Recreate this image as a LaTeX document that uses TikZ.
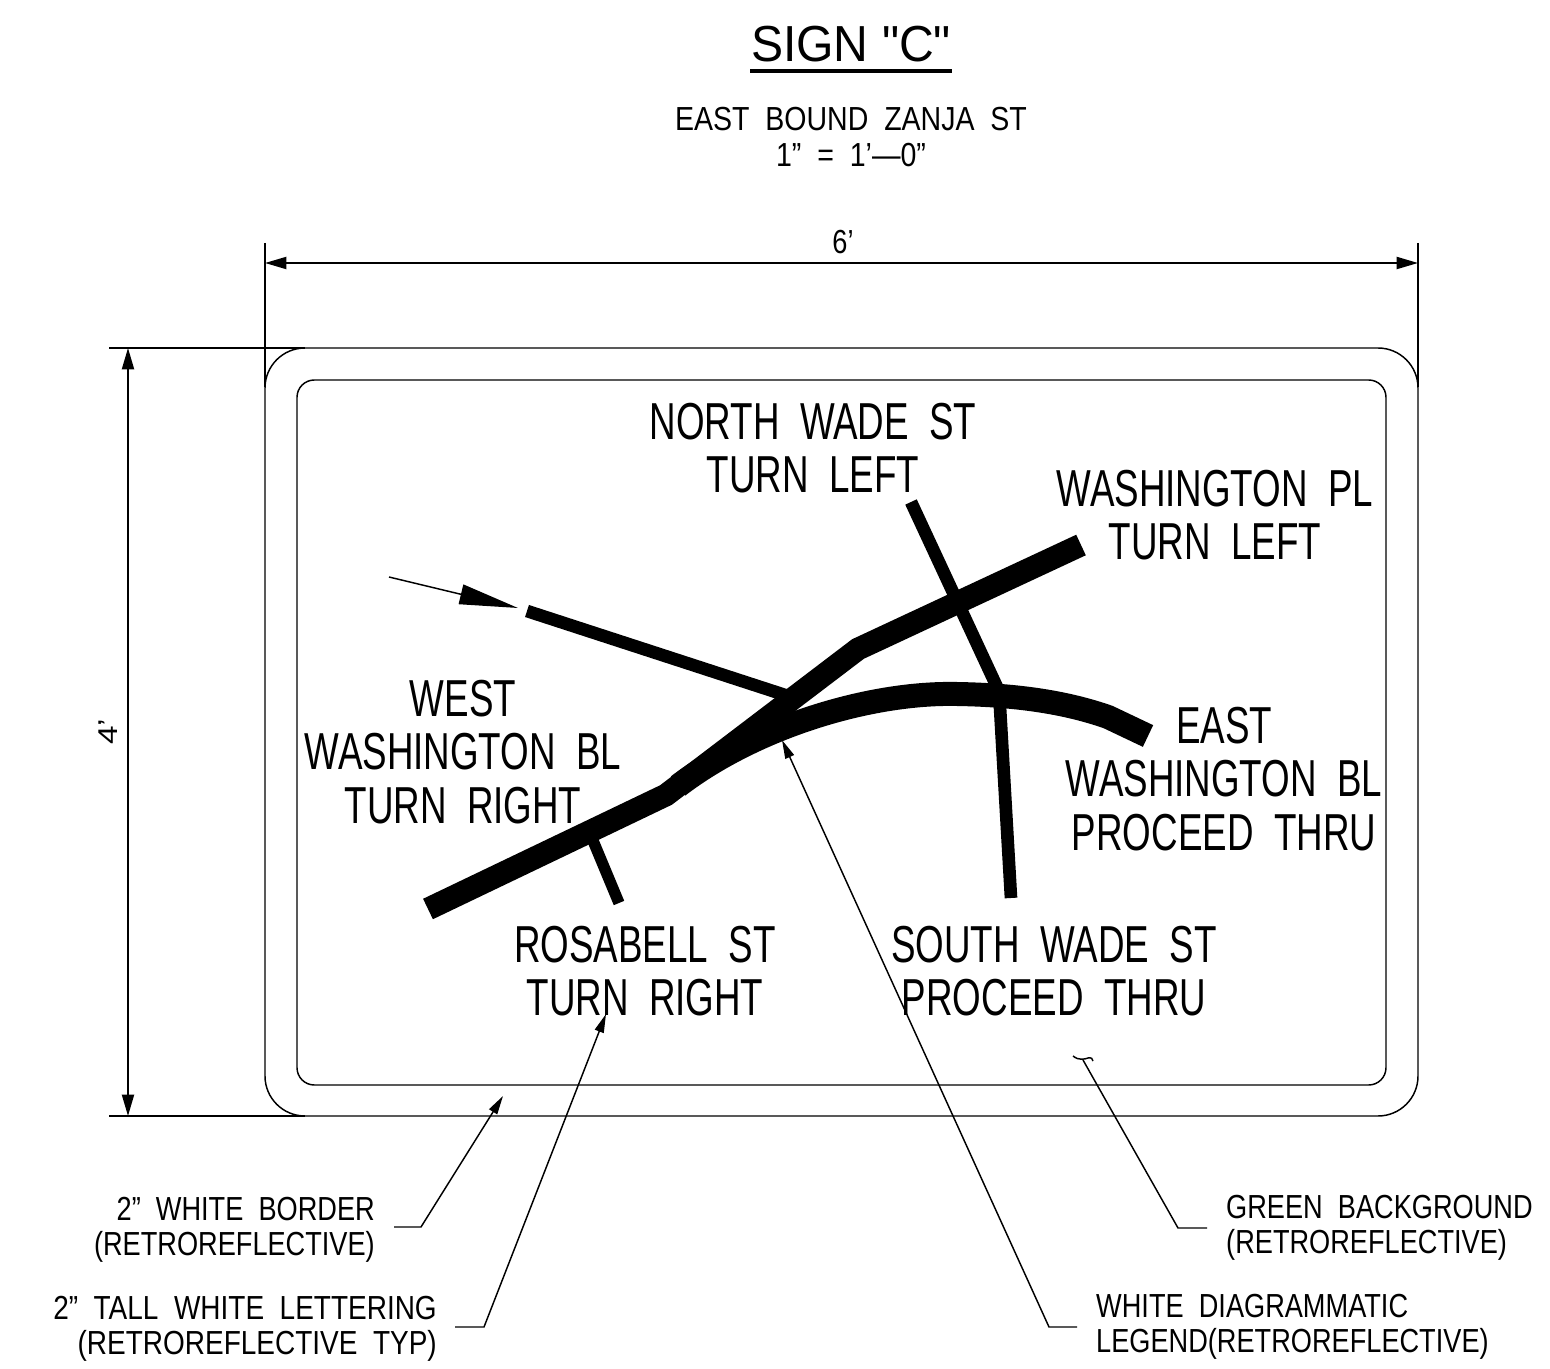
\documentclass[tikz,border=0pt]{standalone}
\usepackage{fontspec}
\setmainfont[WordSpace=2.0]{Liberation Sans}
\newfontfamily\titlefont{Liberation Sans}
\usetikzlibrary{arrows.meta}
\tikzset{
  biglabel/.style={align=center, inner sep=0pt, xscale=.707, font=\fontsize{39}{40}\selectfont},
  smalllabel/.style={inner sep=0pt, xscale=.815, font=\fontsize{25}{26.3}\selectfont},
  edge/.style={line width=1.1pt},
  dimline/.style={line width=1.5pt},
  leader/.style={line width=1.1pt},
  dimtip/.style={{Triangle[length=16pt,width=9pt]}-{Triangle[length=16pt,width=9pt]}},
  leadtip/.style={-{Triangle[length=14pt,width=7pt]}},
  road/.style={line width=17pt, miter limit=10},
  street/.style={line width=9.5pt}
}
\begin{document}
\begin{tikzpicture}[x=.75pt,y=-.75pt]
 \useasboundingbox (0,0) rectangle (1550,1369);
 % heading
 \node (title) [inner sep=0pt, xscale=.95, font=\titlefont\fontsize{38}{38}\selectfont] at (851,44) {SIGN "C"};
 \coordinate (titleL) at (750,71);
 \coordinate (titleR) at (952,71);
 \draw [line width=2.4pt] (titleL) -- (titleR);
 \node (where) [smalllabel, xscale=1.05, align=center] at (851,137) {EAST BOUND ZANJA ST\\1” = 1’—0”};
 % sign outline
 \draw [edge, rounded corners=30pt] (265,348) rectangle (1418,1116);
 \draw [edge, rounded corners=13pt] (297,380) rectangle (1386,1085);
 % dimensions
 \coordinate (topL) at (265,263);
 \coordinate (topR) at (1418,263);
 \coordinate (sideT) at (128,348);
 \coordinate (sideB) at (128,1116);
 \draw [dimline] (265,243) -- (265,387);
 \draw [dimline] (1418,243) -- (1418,387);
 \draw [dimline] (109,348) -- (305,348);
 \draw [dimline] (109,1116) -- (305,1116);
 \draw [dimline, dimtip] (topL) -- (topR);
 \draw [dimline, dimtip] (sideT) -- (sideB);
 \node (six) [smalllabel] at (843,242) {6’};
 \node (four) [smalllabel, rotate=90] at (108,732) {4’};
 % legend roads
 \draw [road, line width=18pt] (678,786) .. controls (755,727) and (870,692) .. (957,694)
    .. controls (1020,695) and (1068,703) .. (1108,717) -- (1148,736);
 \draw [road] (428,909) -- (666,795) -- (858,649) -- (1081,545);
 \draw [street] (911,502) -- (997,687);
 \draw [street] (999,690) -- (1011,898);
 \draw [street] (527,611) -- (785,695);
 \draw [street, line width=8.5pt] (589,831) -- (619,903);
 \coordinate (inA) at (389,577);
 \coordinate (inB) at (518,608);
 \draw [leader, -{Triangle[length=44pt,width=15pt]}] (inA) -- (inB);
 % street names
 \node (north) [biglabel] at (813,448) {NORTH WADE ST\\TURN LEFT};
 \node (pl) [biglabel] at (1215,515) {WASHINGTON PL\\TURN LEFT};
 \node (west) [biglabel] at (463,752) {WEST\\WASHINGTON BL\\TURN RIGHT};
 \node (east) [biglabel] at (1224,779) {EAST\\WASHINGTON BL\\PROCEED THRU};
 \node (rosa) [biglabel] at (645,971) {ROSABELL ST\\TURN RIGHT};
 \node (south) [biglabel] at (1054,971) {SOUTH WADE ST\\PROCEED THRU};
 % notes
 \node (border) [smalllabel, anchor=east, align=right] at (375,1230) {2” WHITE BORDER\\(RETROREFLECTIVE)};
 \node (tall) [smalllabel, xscale=1.03, anchor=east, align=right] at (437,1329) {2” TALL WHITE LETTERING\\(RETROREFLECTIVE TYP)};
 \node (green) [smalllabel, anchor=west, align=left] at (1226,1228) {GREEN BACKGROUND\\(RETROREFLECTIVE)};
 \node (legend) [smalllabel, anchor=west, align=left] at (1096,1327) {WHITE DIAGRAMMATIC\\LEGEND(RETROREFLECTIVE)};
 % leaders
 \coordinate (b0) at (394,1227); \coordinate (b1) at (421,1227); \coordinate (b2) at (503,1096);
 \coordinate (t0) at (455,1327); \coordinate (t1) at (484,1327); \coordinate (t2) at (606,1014);
 \coordinate (l0) at (1077,1327); \coordinate (l1) at (1049,1327); \coordinate (l2) at (782,740);
 \coordinate (g0) at (1207,1228); \coordinate (g1) at (1178,1228); \coordinate (g2) at (1083,1060);
 \draw [leader, leadtip] (b0) -- (b1) -- (b2);
 \draw [leader, leadtip] (t0) -- (t1) -- (t2);
 \draw [leader, leadtip] (l0) -- (l1) -- (l2);
 \draw [leader] (g0) -- (g1) -- (g2);
 \draw [leader] (1073,1056) .. controls (1079,1061) and (1085,1059) .. (1088,1058) .. controls (1091,1057) and (1093,1059) .. (1093,1061);
\end{tikzpicture}
\end{document}
